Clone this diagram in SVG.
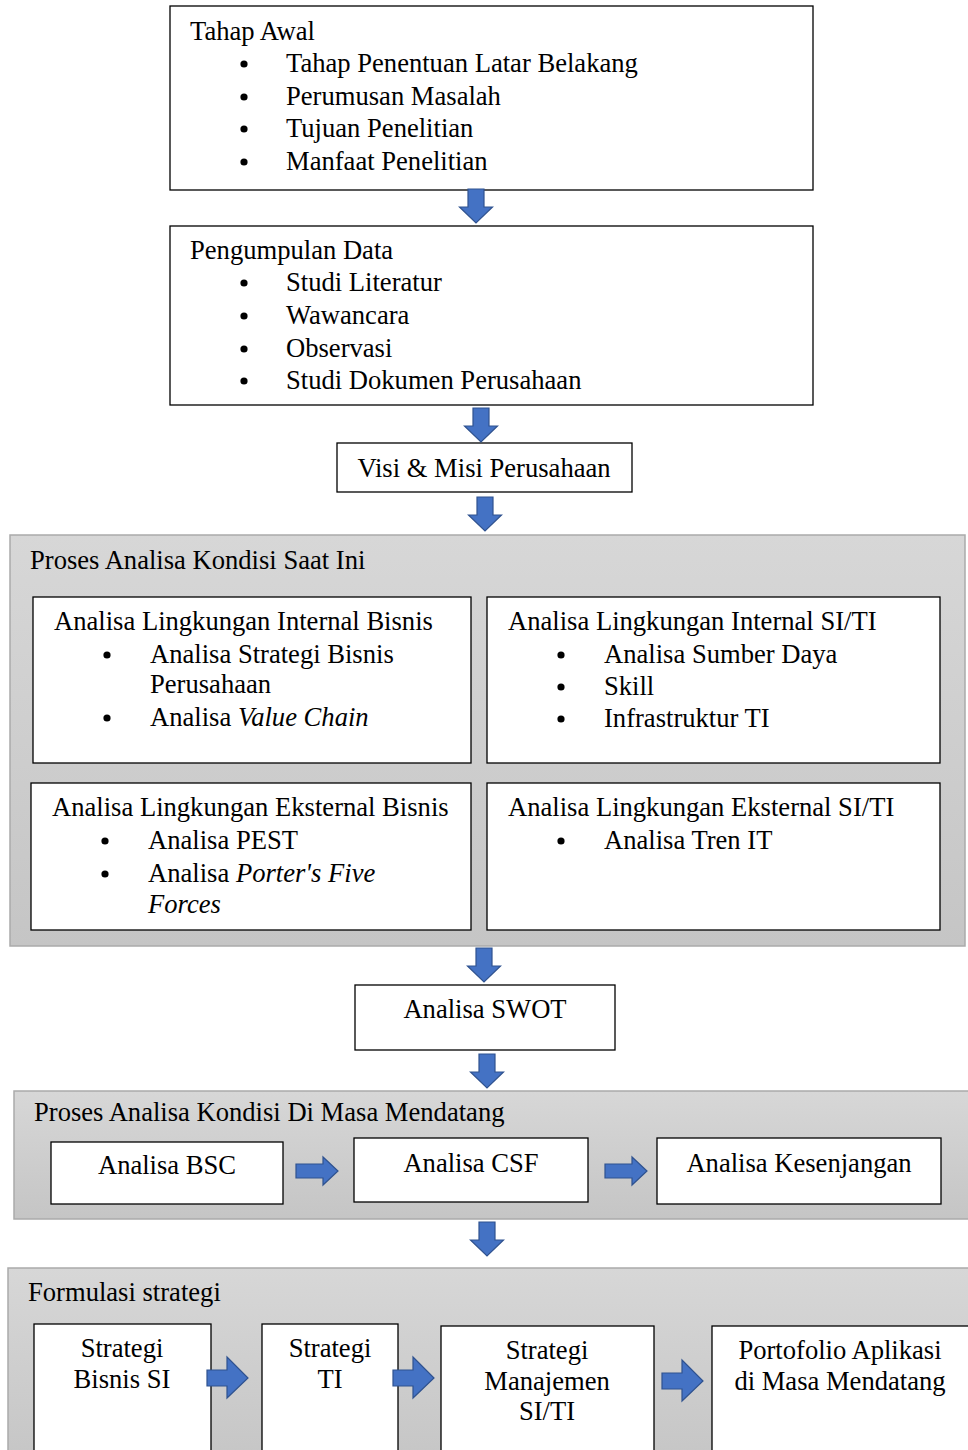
<svg xmlns="http://www.w3.org/2000/svg" width="968" height="1450" viewBox="0 0 968 1450">
<style>
text{font-family:"Liberation Serif","Times New Roman",serif;font-size:26.6px;fill:#000}
.box{fill:#fff;stroke:#000;stroke-width:1.3}
.panel{fill:url(#g);stroke:#aaa;stroke-width:1.5}
.arr{fill:#4472C4;stroke:#2F528F;stroke-width:1.2}
.c{text-anchor:middle}
</style>
<defs>
<linearGradient id="g" x1="0" y1="0" x2="0" y2="1"><stop offset="0" stop-color="#d7d7d7"/><stop offset="1" stop-color="#c5c5c5"/></linearGradient>
<path id="down" d="M-8,0 H8 V18 H16.5 L0,34 L-16.5,18 H-8 Z"/>
</defs>
<g id="n1"><rect class="box" x="170" y="6" width="643" height="184"/>
<text x="190" y="40">Tahap Awal</text>
<g><circle cx="244" cy="64" r="3.6"/><circle cx="244" cy="97" r="3.6"/><circle cx="244" cy="129" r="3.6"/><circle cx="244" cy="162" r="3.6"/></g>
<text x="286" y="72">Tahap Penentuan Latar Belakang</text>
<text x="286" y="105">Perumusan Masalah</text>
<text x="286" y="137">Tujuan Penelitian</text>
<text x="286" y="170">Manfaat Penelitian</text></g>
<g id="n2"><rect class="box" x="170" y="226" width="643" height="179"/>
<text x="190" y="259">Pengumpulan Data</text>
<g><circle cx="244" cy="283" r="3.6"/><circle cx="244" cy="316" r="3.6"/><circle cx="244" cy="349" r="3.6"/><circle cx="244" cy="381" r="3.6"/></g>
<text x="286" y="291">Studi Literatur</text>
<text x="286" y="324">Wawancara</text>
<text x="286" y="357">Observasi</text>
<text x="286" y="389">Studi Dokumen Perusahaan</text></g>
<g id="n3"><rect class="box" x="337" y="443" width="295" height="49"/>
<text class="c" x="484" y="477">Visi &amp; Misi Perusahaan</text></g>
<g id="p1"><rect class="panel" x="10" y="535" width="955" height="411"/>
<text x="30" y="569">Proses Analisa Kondisi Saat Ini</text></g>
<g id="n4"><rect class="box" x="33" y="597" width="438" height="166"/>
<text x="54" y="630">Analisa Lingkungan Internal Bisnis</text>
<circle cx="107" cy="655" r="3.6"/><circle cx="107" cy="718" r="3.6"/>
<text x="150" y="663">Analisa Strategi Bisnis</text>
<text x="150" y="693">Perusahaan</text>
<text x="150" y="726">Analisa <tspan font-style="italic">Value Chain</tspan></text></g>
<g id="n5"><rect class="box" x="487" y="597" width="453" height="166"/>
<text x="508" y="630">Analisa Lingkungan Internal SI/TI</text>
<circle cx="561" cy="655" r="3.6"/><circle cx="561" cy="687" r="3.6"/><circle cx="561" cy="719" r="3.6"/>
<text x="604" y="663">Analisa Sumber Daya</text>
<text x="604" y="695">Skill</text>
<text x="604" y="727">Infrastruktur TI</text></g>
<g id="n6"><rect class="box" x="31" y="783" width="440" height="147"/>
<text x="52" y="816">Analisa Lingkungan Eksternal Bisnis</text>
<circle cx="105" cy="841" r="3.6"/><circle cx="105" cy="874" r="3.6"/>
<text x="148" y="849">Analisa PEST</text>
<text x="148" y="882">Analisa <tspan font-style="italic">Porter's Five</tspan></text>
<text x="148" y="913" font-style="italic">Forces</text></g>
<g id="n7"><rect class="box" x="487" y="783" width="453" height="147"/>
<text x="508" y="816">Analisa Lingkungan Eksternal SI/TI</text>
<circle cx="561" cy="841" r="3.6"/>
<text x="604" y="849">Analisa Tren IT</text></g>
<g id="n8"><rect class="box" x="355" y="985" width="260" height="65"/>
<text class="c" x="485" y="1018">Analisa SWOT</text></g>
<g id="p2"><rect class="panel" x="14" y="1091" width="960" height="128"/>
<text x="34" y="1121">Proses Analisa Kondisi Di Masa Mendatang</text></g>
<g id="n9"><rect class="box" x="51" y="1142" width="232" height="62"/>
<text class="c" x="167" y="1174">Analisa BSC</text></g>
<g id="n10"><rect class="box" x="354" y="1138" width="234" height="64"/>
<text class="c" x="471" y="1172">Analisa CSF</text></g>
<g id="n11"><rect class="box" x="657" y="1138" width="284" height="66"/>
<text class="c" x="799" y="1172">Analisa Kesenjangan</text></g>
<g id="p3"><rect class="panel" x="8" y="1268" width="970" height="200"/>
<text x="28" y="1301">Formulasi strategi</text></g>
<g id="n12"><rect class="box" x="34" y="1324" width="177" height="140"/>
<text class="c" x="122" y="1357">Strategi</text><text class="c" x="122" y="1388">Bisnis SI</text></g>
<g id="n13"><rect class="box" x="262" y="1324" width="136" height="140"/>
<text class="c" x="330" y="1357">Strategi</text><text class="c" x="330" y="1388">TI</text></g>
<g id="n14"><rect class="box" x="441" y="1326" width="213" height="140"/>
<text class="c" x="547" y="1359">Strategi</text><text class="c" x="547" y="1390">Manajemen</text><text class="c" x="547" y="1420">SI/TI</text></g>
<g id="n15"><rect class="box" x="712" y="1326" width="270" height="140"/>
<text class="c" x="840" y="1359">Portofolio Aplikasi</text><text class="c" x="840" y="1390">di Masa Mendatang</text></g>
<g id="connectors">
<use href="#down" class="arr" x="476" y="189"/>
<use href="#down" class="arr" x="481" y="408"/>
<use href="#down" class="arr" x="485" y="497"/>
<use href="#down" class="arr" x="484" y="948"/>
<use href="#down" class="arr" x="487" y="1054"/>
<use href="#down" class="arr" x="487" y="1222"/>
<path class="arr" d="M296,1164 H323 V1157 L338,1171 L323,1185 V1178 H296 Z"/>
<path class="arr" d="M605,1164 H632 V1157 L647,1171 L632,1185 V1178 H605 Z"/>
<path class="arr" d="M207,1370 H227 V1357 L248,1378 L227,1398 V1386 H207 Z"/>
<path class="arr" d="M393,1370 H413 V1357 L434,1378 L413,1398 V1386 H393 Z"/>
<path class="arr" d="M662,1373 H682 V1360 L703,1381 L682,1401 V1389 H662 Z"/>
</g>
</svg>
